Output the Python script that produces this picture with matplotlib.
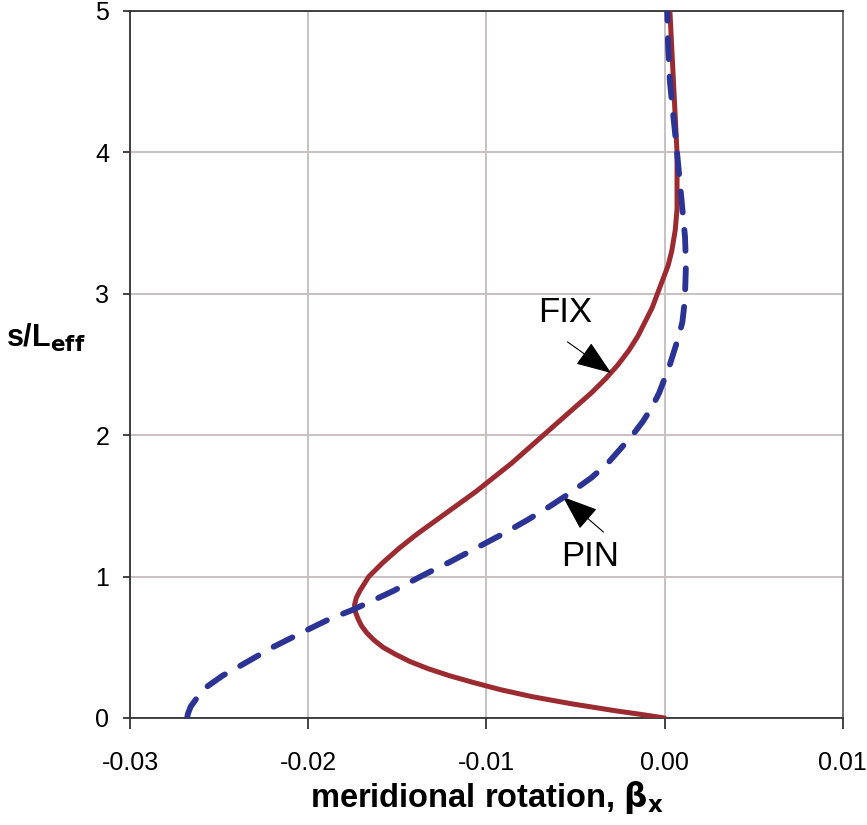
import matplotlib.pyplot as plt

# values
fix_s = [0.0, 0.025, 0.05, 0.1, 0.15, 0.2, 0.25, 0.3, 0.35, 0.4, 0.45, 0.5,
         0.55, 0.6, 0.65, 0.7, 0.75, 0.8, 0.85, 0.9, 1.0, 1.1, 1.2, 1.3, 1.4,
         1.5, 1.6, 1.7, 1.8, 1.9, 2.0, 2.1, 2.2, 2.3, 2.4, 2.5, 2.6, 2.7, 2.8,
         2.9, 3.0, 3.1, 3.2, 3.3, 3.45, 3.6, 3.8, 4.0, 4.25, 4.5, 4.75, 5.0]
fix_beta = [0.0, -0.0013, -0.0027, -0.0052, -0.0074, -0.0092, -0.0107,
            -0.0121, -0.0133, -0.0143, -0.0151, -0.0158, -0.0163, -0.0167,
            -0.0170, -0.0172, -0.01735, -0.0174, -0.0173, -0.0171, -0.0166,
            -0.0158, -0.0149, -0.0139, -0.0128, -0.0117, -0.0106, -0.0096,
            -0.0086, -0.0077, -0.0068, -0.0059, -0.0050, -0.0041, -0.0033,
            -0.0026, -0.0020, -0.0015, -0.0011, -0.0007, -0.0004, -0.0001,
            0.0002, 0.0004, 0.0006, 0.0007, 0.0007, 0.0007, 0.0006, 0.0005,
            0.0004, 0.0003]

pin_s = [0.0, 0.03, 0.08, 0.15, 0.22, 0.3, 0.37, 0.5, 0.62, 0.7, 0.76, 0.8,
         0.9, 1.0, 1.07, 1.1, 1.2, 1.3, 1.4, 1.5, 1.6, 1.7, 1.8, 1.9, 2.0,
         2.1, 2.2, 2.3, 2.4, 2.5, 2.62, 2.7, 2.8, 2.91, 3.0, 3.2, 3.4, 3.6,
         3.8, 4.0, 4.25, 4.5, 4.75, 5.0]
pin_beta = [-0.0268, -0.02675, -0.0266, -0.0262, -0.0257, -0.0248, -0.0238,
            -0.0220, -0.0201, -0.0188, -0.0176, -0.0169, -0.0152, -0.0137,
            -0.0126, -0.0121, -0.0106, -0.0091, -0.0077, -0.0064, -0.0052,
            -0.0041, -0.0032, -0.0025, -0.0018, -0.0012, -0.0007, -0.0003,
            0.0000, 0.0003, 0.0006, 0.0008, 0.0010, 0.0011, 0.00115, 0.0012,
            0.00115, 0.0010, 0.00085, 0.0007, 0.0005, 0.0003, 0.0002, 0.00015]

x_ticks = [-0.03, -0.02, -0.01, 0.00, 0.01]
x_labels = ["-0.03", "-0.02", "-0.01", "0.00", "0.01"]
y_ticks = [0, 1, 2, 3, 4, 5]

plt.rcParams['font.family'] = ['Liberation Sans', 'DejaVu Sans']

fig = plt.figure(figsize=(8.67, 8.25), dpi=100)
ax = fig.add_axes([0.150, 0.1297, 0.822, 0.857])

ax.plot(fix_beta, fix_s, color='#9b2b30', lw=3.6, solid_capstyle='round',
        solid_joinstyle='round', zorder=3)
ax.plot(pin_beta, pin_s, color='#2b3394', lw=4.2, dashes=(3.6, 3.0),
        dash_capstyle='round', dash_joinstyle='round', zorder=4)

ax.set_xlim(-0.03, 0.01)
ax.set_ylim(0, 5)
ax.set_xticks(x_ticks)
ax.set_xticklabels(x_labels)
ax.set_yticks(y_ticks)
ax.grid(True, color='#c9c1c1', lw=1.4)
ax.set_axisbelow(True)
ax.tick_params(axis='x', direction='out', length=8, width=1.2, labelsize=18,
               pad=16, colors='#222222', labelcolor='black')
ax.tick_params(axis='y', direction='out', length=5, width=1.2, labelsize=18,
               pad=10, colors='#222222', labelcolor='black')
for sp in ax.spines.values():
    sp.set_color('#333333')
    sp.set_linewidth(1.3)
ax.spines['right'].set_color('#666666')

ax.set_xlabel(r"meridional rotation, $\mathbf{\beta_x}$", fontsize=23.5,
              fontweight='bold', labelpad=3)
ax.set_ylabel(r"s/L$_\mathbf{eff}$", fontsize=22, fontweight='bold',
              rotation=0, ha='center', va='center')
ax.yaxis.set_label_coords(-0.118, 0.537)

arrow = dict(arrowstyle='-|>,head_length=0.8,head_width=0.3', color='black',
             lw=0.8, mutation_scale=28, shrinkA=0, shrinkB=0)
ax.text(-0.0056, 2.87, "FIX", fontsize=25, ha='center', va='center')
ax.annotate("", xy=(-0.0030, 2.44), xytext=(-0.00545, 2.66), arrowprops=arrow)
ax.text(-0.0042, 1.14, "PIN", fontsize=25, ha='center', va='center')
ax.annotate("", xy=(-0.0057, 1.563), xytext=(-0.00343, 1.315), arrowprops=arrow)

fig.savefig("out.png", dpi=100)
